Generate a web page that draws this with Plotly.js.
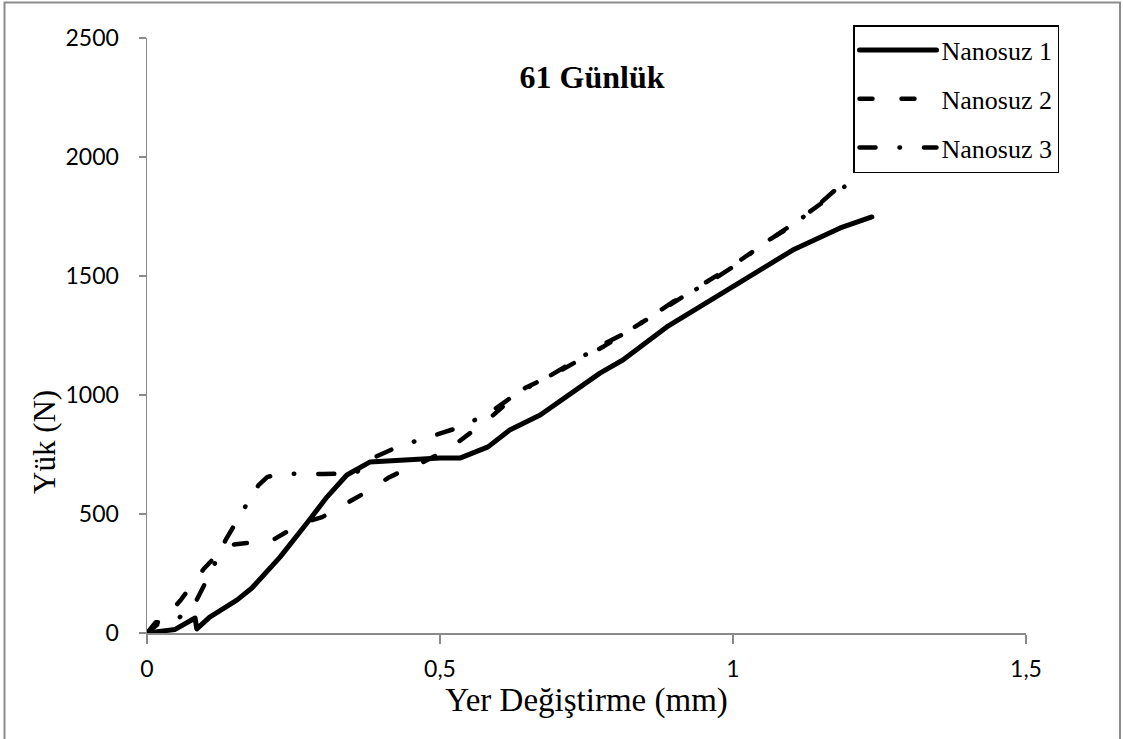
<!DOCTYPE html>
<html>
<head>
<meta charset="utf-8">
<script src="https://cdn.plot.ly/plotly-3.0.1.min.js"></script>
<style>
html,body{margin:0;padding:0;background:#fff;}
#chart{width:1123px;height:739px;}
.scatterlayer path.js-line, .legendlines path{stroke-linecap:round;stroke-linejoin:round;}
</style>
</head>
<body>
<div id="chart"></div>
<script>
// Series names
const seriesNames = ["Nanosuz 1", "Nanosuz 2", "Nanosuz 3"];

// Nanosuz 1 (solid)
const x1 = [0, 0.048, 0.082, 0.085, 0.107, 0.154, 0.179, 0.227, 0.273, 0.307, 0.341, 0.38, 0.5, 0.534, 0.582, 0.619, 0.671, 0.773, 0.812, 0.887, 0.99, 1.102, 1.183, 1.237];
const y1 = [0, 15, 63, 17, 67, 139, 189, 319, 462, 571, 664, 718, 735, 735, 782, 853, 916, 1092, 1147, 1286, 1441, 1609, 1702, 1748];

// Nanosuz 2 (dashed)
const x2 = [0, 0.03, 0.058, 0.097, 0.128, 0.14, 0.17, 0.206, 0.235, 0.266, 0.299, 0.326, 0.352, 0.389, 0.411, 0.449, 0.471, 0.512, 0.531, 0.565, 0.585, 0.625, 0.645, 0.7, 0.78, 0.9, 1.0, 1.1, 1.18, 1.19];
const y2 = [0, 60, 140, 270, 350, 370, 378, 378, 420, 462, 487, 525, 559, 613, 651, 697, 718, 769, 802, 865, 903, 990, 1029, 1095, 1205, 1390, 1545, 1715, 1860, 1875];

// Nanosuz 3 (long dash-dot)
const x3 = [0, 0.015, 0.048, 0.085, 0.109, 0.134, 0.16, 0.19, 0.205, 0.227, 0.3, 0.355, 0.389, 0.43, 0.49, 0.54, 0.589, 0.63, 0.68, 0.78, 0.82, 0.86, 0.9, 0.96, 1.01, 1.05, 1.1, 1.14, 1.17, 1.188, 1.19];
const y3 = [0, 45, 46, 140, 256, 390, 500, 620, 655, 670, 668, 670, 739, 785, 830, 870, 933, 1005, 1070, 1215, 1265, 1330, 1395, 1475, 1555, 1634, 1710, 1786, 1850, 1891, 1870];

// Axis ticks
const xTicks = [0, 0.5, 1, 1.5];
const xTickLabels = ["0", "0,5", "1", "1,5"];
const yTicks = [0, 500, 1000, 1500, 2000, 2500];
const yTickLabels = ["0", "500", "1000", "1500", "2000", "2500"];

const titleText = "61 Günlük";
const xTitle = "Yer Değiştirme (mm)";
const yTitle = "Yük (N)";

const axisGray = "#8a8a8a";
const traces = [
  {x: x1, y: y1, name: seriesNames[0], mode: "lines", legendgroup: "a",
   line: {color: "#000", width: 5, dash: "solid"}},
  {x: x2, y: y2, name: seriesNames[1], mode: "lines", legendgroup: "b",
   line: {color: "#000", width: 4.5, dash: "13px,29px"}},
  {x: x3, y: y3, name: seriesNames[2], mode: "lines", legendgroup: "c",
   line: {color: "#000", width: 4.5, dash: "16px,24px,0.5px,24px"}}
];

const layout = {
  width: 1123, height: 739,
  margin: {l: 147, r: 97, t: 38, b: 106},
  paper_bgcolor: "#fff", plot_bgcolor: "#fff",
  separators: ",.",
  showlegend: true,
  title: {text: "<b>" + titleText + "</b>", x: 592/1123, y: 1 - 77/739,
          xanchor: "center", yanchor: "middle",
          font: {family: "Liberation Serif, Times New Roman, serif", size: 32, color: "#000"}},
  xaxis: {range: [0, 1.5], tickvals: xTicks, ticktext: xTickLabels,
          showgrid: false, zeroline: false, showline: true, linecolor: axisGray, linewidth: 1.5,
          ticks: "outside", ticklen: 9, tickcolor: axisGray, tickwidth: 1.5,
          ticklabelstandoff: 6,
          tickfont: {family: "Lato, Open Sans, sans-serif", size: 23, color: "#000"},
          title: {text: xTitle, standoff: 4,
                  font: {family: "Liberation Serif, Times New Roman, serif", size: 33, color: "#000"}}},
  yaxis: {range: [0, 2500], tickvals: yTicks, ticktext: yTickLabels,
          showgrid: false, zeroline: false, showline: true, linecolor: axisGray, linewidth: 1.5,
          ticks: "outside", ticklen: 7, tickcolor: axisGray, tickwidth: 1.5,
          ticklabelstandoff: 15,
          tickfont: {family: "Lato, Open Sans, sans-serif", size: 23, color: "#000"}},
  legend: {x: (853-147)/879, y: (633-25)/595, xanchor: "left", yanchor: "top",
           bgcolor: "#fff", bordercolor: "#000", borderwidth: 1.5,
           itemwidth: 77, tracegroupgap: 12, entrywidth: 119, entrywidthmode: "pixels",
           font: {family: "Liberation Serif, Times New Roman, serif", size: 26, color: "#000"}},
  annotations: [
    {text: yTitle, xref: "paper", yref: "paper", x: (44-147)/879, y: (633-442)/595,
     xanchor: "center", yanchor: "middle", showarrow: false, textangle: -90,
     font: {family: "Liberation Serif, Times New Roman, serif", size: 31, color: "#000"}}
  ],
  shapes: [
    {type: "rect", xref: "paper", yref: "paper", x0: (4.5-147)/879, x1: (1120-147)/879,
     y0: -0.3, y1: (633-2.5)/595, line: {color: "#8c8c8c", width: 2}, fillcolor: "rgba(0,0,0,0)", layer: "below"}
  ]
};

Plotly.newPlot("chart", traces, layout, {displayModeBar: false, staticPlot: true});
</script>
</body>
</html>
